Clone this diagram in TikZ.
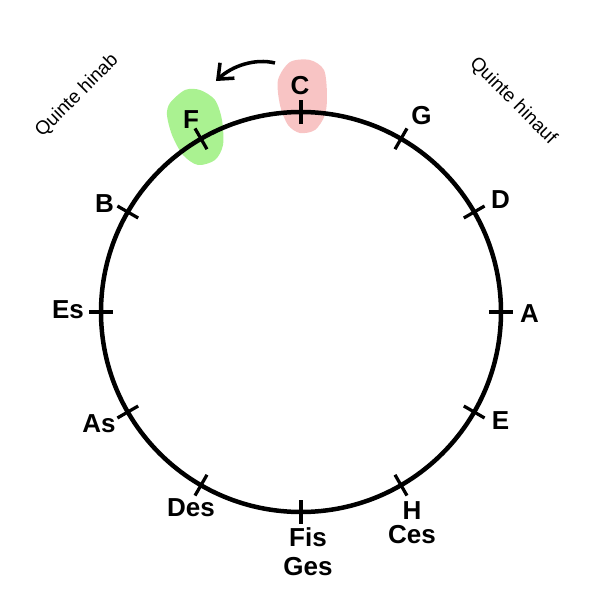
\documentclass[tikz,border=0pt]{standalone}
\usepackage{fontspec}
\setmainfont{Liberation Sans}
\usepackage{tikz}
\usetikzlibrary{arrows.meta}
\definecolor{rosafleck}{RGB}{248,196,196}
\definecolor{gruenfleck}{RGB}{170,242,145}

\begin{document}
\begin{tikzpicture}[
	ton/.style={font=\fontsize{18.5}{20.5}\selectfont\bfseries, inner sep=0pt, align=center},
	strich/.style={line width=2.3pt},
	richtung/.style={font=\fontsize{13.6}{15}\selectfont, inner sep=0pt}]

	\useasboundingbox (-7.525,-7.2) rectangle (7.475,7.8);

	% Flecken
	\fill[rosafleck] plot[smooth cycle] coordinates {(-0.275,6.25) (0.225,6.3) (0.575,6.05) (0.65,5.425) (0.6,4.925) (0.35,4.55) (-0.025,4.475) (-0.325,4.675) (-0.525,5.175) (-0.575,5.8)};
	\fill[gruenfleck] plot[smooth cycle] coordinates {(-3.275,5.225) (-2.9,5.55) (-2.525,5.55) (-2.15,5.3) (-1.975,4.8) (-1.95,4.175) (-2.15,3.8) (-2.575,3.675) (-2.95,3.925) (-3.225,4.425) (-3.35,4.925)};

	% Kreis
	\draw[line width=3.2pt] (0,0) circle (5);

	% Striche
	\draw[strich] (90:4.7) -- (90:5.3);
	\draw[strich] (60:4.7) -- (60:5.3);
	\draw[strich] (30:4.7) -- (30:5.3);
	\draw[strich] (0:4.7) -- (0:5.3);
	\draw[strich] (-30:4.7) -- (-30:5.3);
	\draw[strich] (-60:4.7) -- (-60:5.3);
	\draw[strich] (-90:4.7) -- (-90:5.3);
	\draw[strich] (-120:4.7) -- (-120:5.3);
	\draw[strich] (-150:4.7) -- (-150:5.3);
	\draw[strich] (180:4.7) -- (180:5.3);
	\draw[strich] (150:4.7) -- (150:5.3);
	\draw[strich] (120:4.7) -- (120:5.3);

	% Toene
	\node[ton] (C) at (-0.025,5.66) {C};
	\node[ton] (G) at (3.0125,4.9) {G};
	\node[ton] (D) at (4.9875,2.8125) {D};
	\node[ton] (A) at (5.7125,-0.0375) {A};
	\node[ton] (E) at (4.9875,-2.725) {E};
	\node[ton] (H) at (2.775,-5.2625) {H\\[-3.5pt]Ces};
	\node[ton] (Fis) at (0.175,-5.9875) {Fis\\Ges};
	\node[ton] (Des) at (-2.75,-4.9) {Des};
	\node[ton] (As) at (-5.05,-2.7875) {As};
	\node[ton] (Es) at (-5.825,0.0625) {Es};
	\node[ton] (B) at (-4.9125,2.7125) {B};
	\node[ton] (F) at (-2.75,4.8) {F};

	% Richtungen
	\node[richtung, rotate=45] (hinab) at (-5.6,5.4) {Quinte hinab};
	\node[richtung, rotate=-45] (hinauf) at (5.3,5.275) {Quinte hinauf};

	% Pfeil
	\coordinate (pfeilA) at (-0.65,6.225);
	\coordinate (pfeilB) at (-2.125,5.775);
	\draw[line width=2.5pt, -{Straight Barb[length=9pt, width=15pt]}] (pfeilA) .. controls (-1.15,6.35) and (-1.725,6.15) .. (pfeilB);

\end{tikzpicture}
\end{document}
